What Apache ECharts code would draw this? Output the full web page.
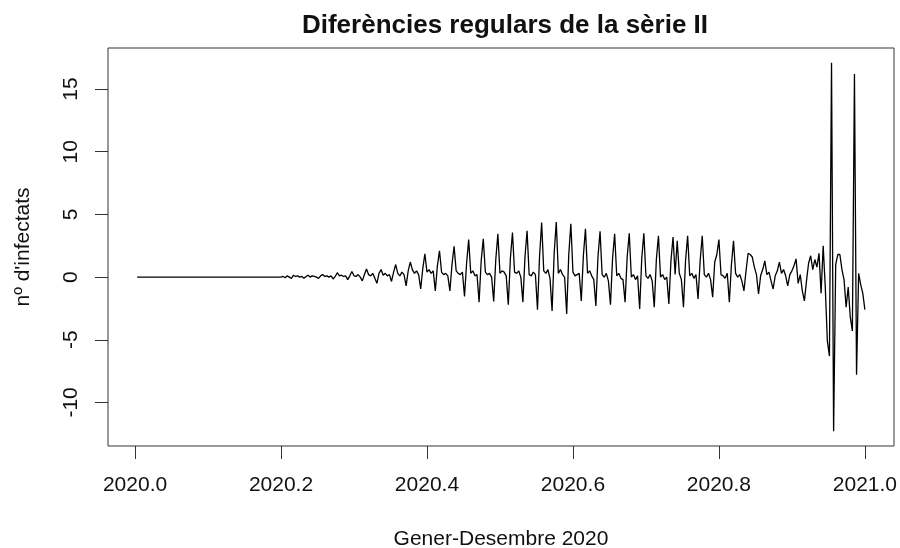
<!DOCTYPE html>
<html>
<head>
<meta charset="utf-8">
<script src="https://cdn.jsdelivr.net/npm/echarts@6/dist/echarts.min.js"></script>
<style>html,body{margin:0;padding:0;background:#fff}#c{width:900px;height:548px}</style>
</head>
<body>
<div id="c"></div>
<script>
// Series: daily regular differences, ts starting 2020 with frequency 350
const startYear = 2020;
const freq = 350;

const flatStart = [
  0,0,0,0,0,0,0,0,0,0,
  0,0,0,0,0,0,0,0,0,0,
  0,0,0,0,0,0,0,0,0,0,
  0,0,0,0,0,0,0,0,0,0,
  0,0,0,0,0,0,0,0,0,0,
  0,0,0,0,0,0,0,0,0,0,
  0,0,0,0,0,0,0,0,0
];
const valuesMarMay = [
  0, 0.05, -0.05, 0.1, 0, -0.1,
  0.15, 0.05, 0.1, 0, 0.05, -0.1, 0.05,
  0.15, 0, 0.1, 0.05, 0, -0.1, 0.1,
  0.2, 0.05, 0.1, 0, 0.1, -0.15, 0.05,
  0.35, 0.1, 0.15, 0.05, 0.1, -0.2, 0.1,
  0.45, 0.1, 0.05, 0.2, 0, -0.3, 0.2,
  0.65, 0.2, 0.1, 0.3, -0.1, -0.5, 0.3,
  0.6, 0.15, 0.3, 0.1, 0.2, -0.35, 0.4,
  1.0, 0.3, 0.1, 0.4, 0.2, -0.7, 0.5,
  1.2, 0.6, 0.3, 0.5, 0.2, -0.95, 0.7
];
const valuesMayAug = [
  1.85, 0.4, 0.6, 0.3, 0.5, -1.1, 0.9,
  2.1, 0.4, 0.2, 0.3, 0.1, -1.1, 1.0,
  2.45, 0.5, 0.3, 0.2, 0.4, -1.55, 1.1,
  3.0, 0.3, 0.5, 0.1, 0.2, -2.0, 1.3,
  3.05, 0.4, 0.2, 0.3, 0.0, -1.95, 1.4,
  3.45, 0.3, 0.5, 0.4, 0.1, -2.2, 1.5,
  3.55, 0.4, 0.3, 0.5, 0.0, -2.0, 1.6,
  3.7, 0.2, 0.1, 0.4, 0.2, -2.6, 1.7,
  4.35, 0.5, 0.3, 0.6, -0.1, -2.7, 1.9,
  4.4, 0.3, 0.6, 0.2, 0.0, -2.95, 1.8,
  4.25, 0.4, 0.1, 0.2, 0.3, -1.9, 1.7,
  3.85, 0.3, 0.5, 0.1, -0.2, -2.3, 1.6,
  3.65, 0.2, 0.0, 0.3, -0.3, -2.2, 1.5
];
const valuesAugOct = [
  3.45, 0.1, 0.3, -0.1, -0.2, -2.0, 1.6,
  3.5, 0.0, 0.2, -0.2, 0.1, -2.55, 1.5,
  3.5, 0.1, -0.1, 0.2, -0.3, -2.4, 1.4,
  3.3, 0.0, 0.2, -0.2, 0.0, -2.15, 1.3,
  3.2, 0.2, 2.9, 0.3, -0.2, -2.4, 1.3,
  3.3, 0.1, 0.3, -0.1, 0.2, -1.75, 1.3,
  3.3, 0.2, 0.0, 0.3, -0.2, -1.6, 1.2,
  1.8, 3.0, 0.2, 0.1, -0.1, 0.3, -2.0,
  1.0, 2.9, 0.3, 0.0, 0.2, -0.3, -1.1
];
const valuesOctDec = [
  0.5, 1.9, 1.8, 1.6, 0.8, 0.2, -1.35,
  0.1, 0.6, 1.3, 0.2, 0.4, -0.3, -0.95,
  0.1, 0.5, 1.2, 0.3, 0.6, 0.1, -0.7,
  0.2, 0.5, 0.9, 1.45,
  -0.5, 0.2, -1.1, -1.9, -0.3, 1.1, 1.7, 0.6, 1.4, 0.8, 1.9, -1.3, 2.5, -0.8, -5.1, -6.3, 17.1, -12.3,
  1.0, 1.8, 1.8, 0.6, -0.2, -2.4, -0.8, -3.2, -4.3, 16.2, -7.8, 0.3, -0.6, -1.3, -2.6
];

const xTicks = [2020.0, 2020.2, 2020.4, 2020.6, 2020.8, 2021.0];
const yTicks = [-10, -5, 0, 5, 10, 15];

const titleText = 'Diferències regulars de la sèrie II';
const xLabel = 'Gener-Desembre 2020';
const yLabel = "nº d'infectats";

const values = [].concat(flatStart, valuesMarMay, valuesMayAug, valuesAugOct, valuesOctDec);
const seriesData = values.map((v, i) => [startYear + (i + 1) / freq, v]);

// R-style 4% axis extension
const xFirst = seriesData[0][0], xLast = seriesData[seriesData.length - 1][0];
const xPad = 0.04 * (xLast - xFirst);
const yMinD = Math.min.apply(null, values), yMaxD = Math.max.apply(null, values);
const yPad = 0.04 * (yMaxD - yMinD);

const FONT = "'Liberation Sans', Arial, sans-serif";
const TXT = '#111';
const AX = '#333';

const chart = echarts.init(document.getElementById('c'), null, {renderer: 'canvas'});
chart.setOption({
  animation: false,
  backgroundColor: '#fff',
  title: {
    text: titleText,
    left: 500,
    top: 8,
    textAlign: 'center',
    textStyle: {fontFamily: FONT, fontSize: 26, fontWeight: 'bold', color: TXT}
  },
  grid: {
    left: 108, right: 6, top: 48, bottom: 102,
    containLabel: false,
    outerBoundsMode: 'none',
    show: true, borderColor: AX, borderWidth: 1, backgroundColor: 'transparent'
  },
  xAxis: {
    type: 'value',
    position: 'bottom',
    min: xFirst - xPad,
    max: xLast + xPad,
    axisLine: {show: false, onZero: false},
    splitLine: {show: false},
    axisTick: {show: true, inside: false, length: 13, customValues: xTicks, lineStyle: {color: AX, width: 1}},
    axisLabel: {
      customValues: xTicks, margin: 29,
      fontFamily: FONT, fontSize: 21, color: TXT,
      formatter: v => Number(v).toFixed(1)
    },
    name: xLabel,
    nameLocation: 'middle',
    nameGap: 83,
    nameTextStyle: {fontFamily: FONT, fontSize: 21, color: TXT}
  },
  yAxis: {
    type: 'value',
    position: 'left',
    min: yMinD - yPad,
    max: yMaxD + yPad,
    axisLine: {show: false, onZero: false},
    splitLine: {show: false},
    axisTick: {show: true, inside: false, length: 13, customValues: yTicks, lineStyle: {color: AX, width: 1}},
    axisLabel: {
      customValues: yTicks, margin: 26, rotate: 90,
      fontFamily: FONT, fontSize: 21, color: TXT
    },
    name: yLabel,
    nameLocation: 'middle',
    nameGap: 74,
    nameRotate: 90,
    nameTextStyle: {fontFamily: FONT, fontSize: 21, color: TXT}
  },
  series: [{
    type: 'line',
    data: seriesData,
    showSymbol: false,
    symbol: 'none',
    lineStyle: {color: '#000', width: 1.3},
    clip: true
  }]
});
</script>
</body>
</html>
